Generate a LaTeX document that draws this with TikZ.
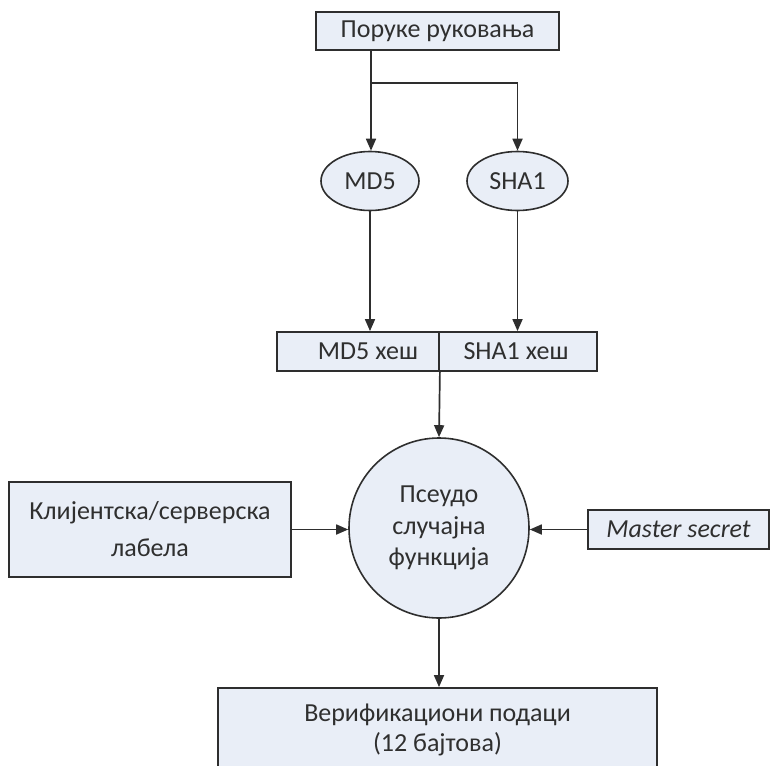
\documentclass[tikz,border=0pt]{standalone}
\usepackage{fontspec}
\setmainfont{Carlito}
\usetikzlibrary{arrows.meta,shapes.geometric}
\definecolor{boxfill}{HTML}{E9EEF7}
\definecolor{edge}{HTML}{2E2E2E}
\definecolor{ink}{HTML}{2F2F2F}
\begin{document}
\begin{tikzpicture}[x=1pt,y=-1pt,
  every node/.style={text=ink,font=\fontsize{26}{31}\selectfont},
  box/.style={draw=edge,fill=boxfill,line width=1.8pt,rectangle,inner sep=0pt,align=center},
  oval/.style={draw=edge,fill=boxfill,line width=1.6pt,ellipse,inner sep=0pt},
  flow/.style={draw=edge,line width=1.7pt,-{Triangle[length=12pt,width=10pt]}},
  plain/.style={draw=edge,line width=1.7pt}]
\clip (0,0) rectangle (770,765);
\useasboundingbox (0,0) rectangle (770,765);
\fill[white] (0,0) rectangle (770,765);

% inputs and hash functions
\node[box,minimum width=243pt,minimum height=38pt] (msgs) at (437.5,31) {Поруке руковања};
\node[oval,minimum width=98pt,minimum height=59pt] (md5) at (370,181) {MD5};
\node[oval,minimum width=101pt,minimum height=59pt] (sha) at (517.5,181) {SHA1};

% hash results (the MD5 label sits a little right of its cell centre)
\node[box,minimum width=162pt,minimum height=39pt] (mdh) at (358,351.5) {\hspace*{20pt}MD5 хеш};
\node[box,minimum width=158pt,minimum height=39pt] (shh) at (518,351.5) {SHA1 хеш\hspace*{4pt}};

% pseudo-random function and its inputs
\node[box,circle,minimum size=180pt,fill=boxfill,line width=1.6pt,font=\fontsize{26}{31.5}\selectfont] (prf) at (439,528) {Псеудо\\случајна\\функција};
\node[box,minimum width=282pt,minimum height=95pt,font=\fontsize{26}{37}\selectfont] (lbl) at (150,529.5) {Клијентска/серверска\\лабела};
\node[box,minimum width=181pt,minimum height=39pt,font=\fontsize{26}{30}\itshape] (ms) at (678.5,529.5) {Master secret};

% output
\node[box,minimum width=439pt,minimum height=84pt,font=\fontsize{26}{30}\selectfont] (out) at (437.5,730) {Верификациони подаци\\(12 бајтова)};

% connectors
\coordinate (br) at (371,83);
\draw[plain] (msgs.south -| br) -- (br);
\draw[flow] (br) -- (br |- md5.north);
\draw[flow] (br) -| (sha.north);
\draw[flow] (md5.south) -- (md5.south |- mdh.north);
\draw[flow] (sha.south) -- (sha.south |- shh.north);
\draw[flow] (mdh.south east) -- (prf.north);
\draw[flow] (lbl.east) -- (lbl.east -| prf.west);
\draw[flow] (ms.west) -- (ms.west -| prf.east);
\draw[flow] (prf.south) -- (prf.south |- out.north);
\end{tikzpicture}
\end{document}
